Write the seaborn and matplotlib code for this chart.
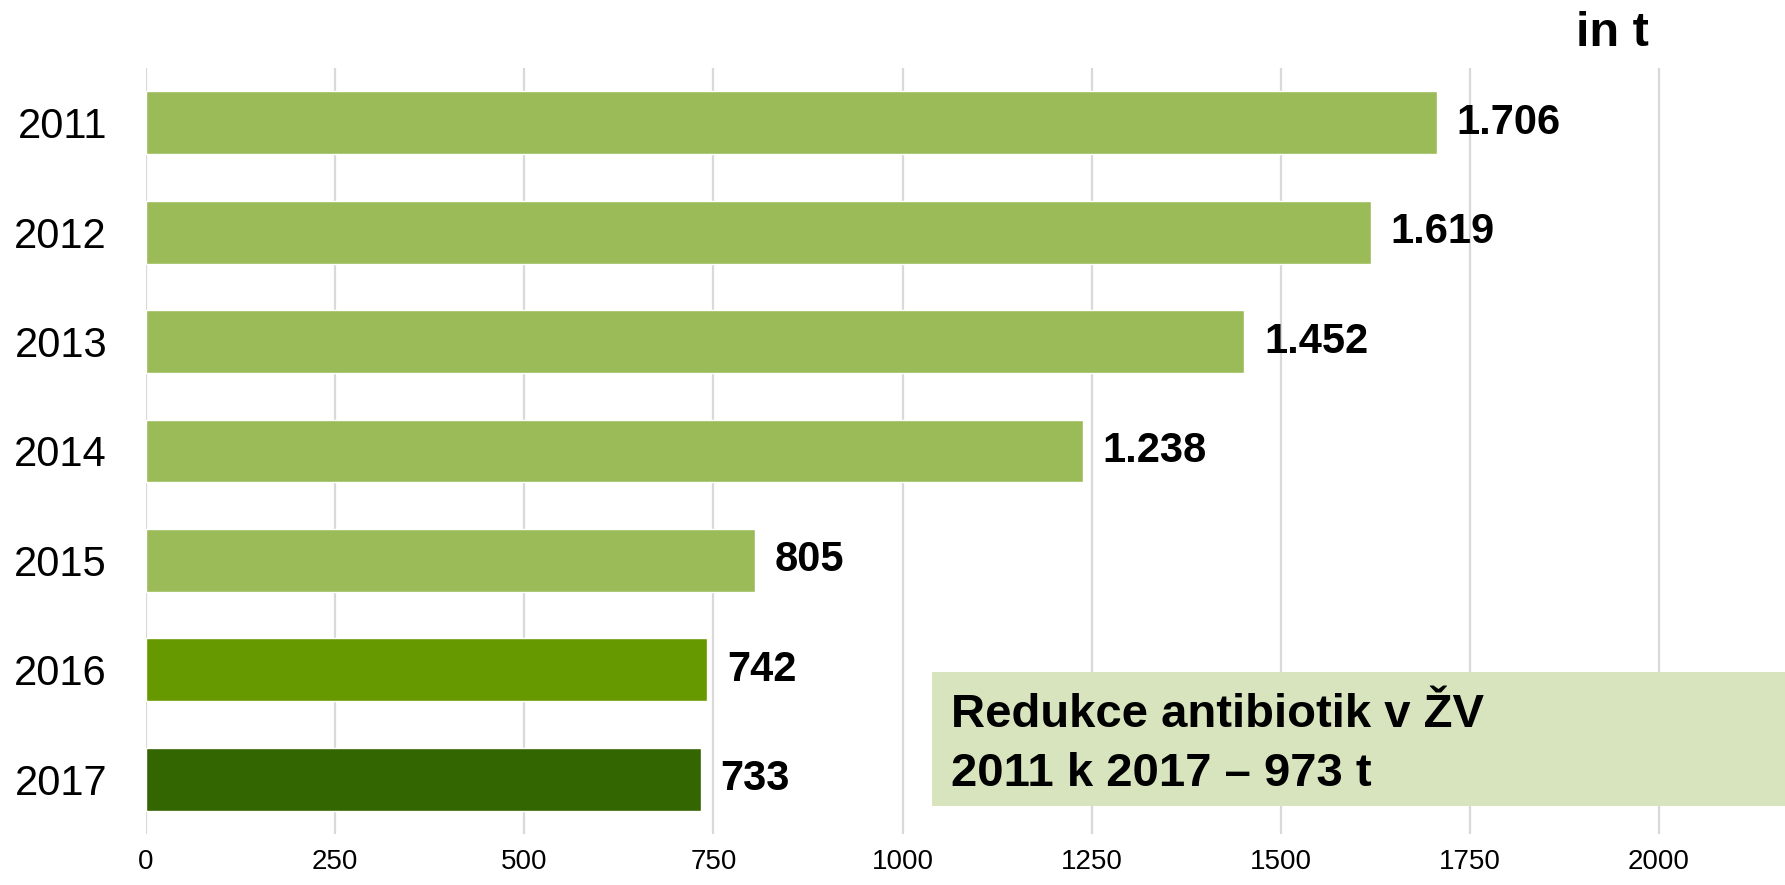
import numpy as np
import pandas as pd
import matplotlib
matplotlib.use("Agg")
import matplotlib.pyplot as plt
import seaborn as sns
from matplotlib.patches import Rectangle

# data
years = ["2011", "2012", "2013", "2014", "2015", "2016", "2017"]
tons = [1706, 1619, 1452, 1238, 805, 742, 733]
labels = ["1.706", "1.619", "1.452", "1.238", "805", "742", "733"]
bar_colors = ["#9BBB59", "#9BBB59", "#9BBB59", "#9BBB59", "#9BBB59", "#669900", "#336600"]
xticks = [0, 250, 500, 750, 1000, 1250, 1500, 1750, 2000]

sns.set_theme(style="white")
plt.rcParams['font.family'] = ['Liberation Sans', 'DejaVu Sans']

df = pd.DataFrame({"year": years, "tons": tons})

W, H = 1785, 885
fig = plt.figure(figsize=(W / 100, H / 100), dpi=100)
# axes: 0 at x=146px, 2000 at x=1659px, top 68px, bottom 834px
ax = fig.add_axes([146 / W, 1 - 834 / H, (W - 146) / W, (834 - 68) / H])

sns.barplot(data=df, x="tons", y="year", hue="year", palette=bar_colors,
            saturation=1, legend=False, width=0.575, orient="h", ax=ax, zorder=3)

ax.set_xlim(0, (W - 146) / ((1659 - 146) / 2000))
ax.set_ylim(6.5, -0.5)
ax.set_xticks(xticks)
ax.set_xticklabels([str(t) for t in xticks], fontsize=20, color="black")
ax.tick_params(axis="y", labelsize=30, labelcolor="black", length=0, pad=28)
ax.tick_params(axis="x", length=0, pad=11)
ax.set_xlabel("")
ax.set_ylabel("")
ax.grid(axis="x", color="#D9D9D9", linewidth=1.6, zorder=0)
for s in ax.spines.values():
    s.set_visible(False)

for i, (v, lab) in enumerate(zip(tons, labels)):
    ax.text(v + 26, i, lab, va="center", ha="left", fontsize=30,
            fontweight="bold", color="black")

fig.text(1612 / W, 1 - 34 / H, "in t", ha="center", va="center",
         fontsize=35, fontweight="bold", color="black")

fig.patches.append(Rectangle((932 / W, 1 - 806 / H), (W - 932) / W, (806 - 672) / H,
                             transform=fig.transFigure, facecolor="#D7E4BD",
                             edgecolor="none", zorder=5))
fig.text(951 / W, 1 - 715 / H, "Redukce antibiotik v ŽV", ha="left", va="center",
         fontsize=34, fontweight="bold", color="black", zorder=6)
fig.text(951 / W, 1 - 774 / H, "2011 k 2017 – 973 t", ha="left", va="center",
         fontsize=34, fontweight="bold", color="black", zorder=6)

fig.savefig("out.png", dpi=100)
